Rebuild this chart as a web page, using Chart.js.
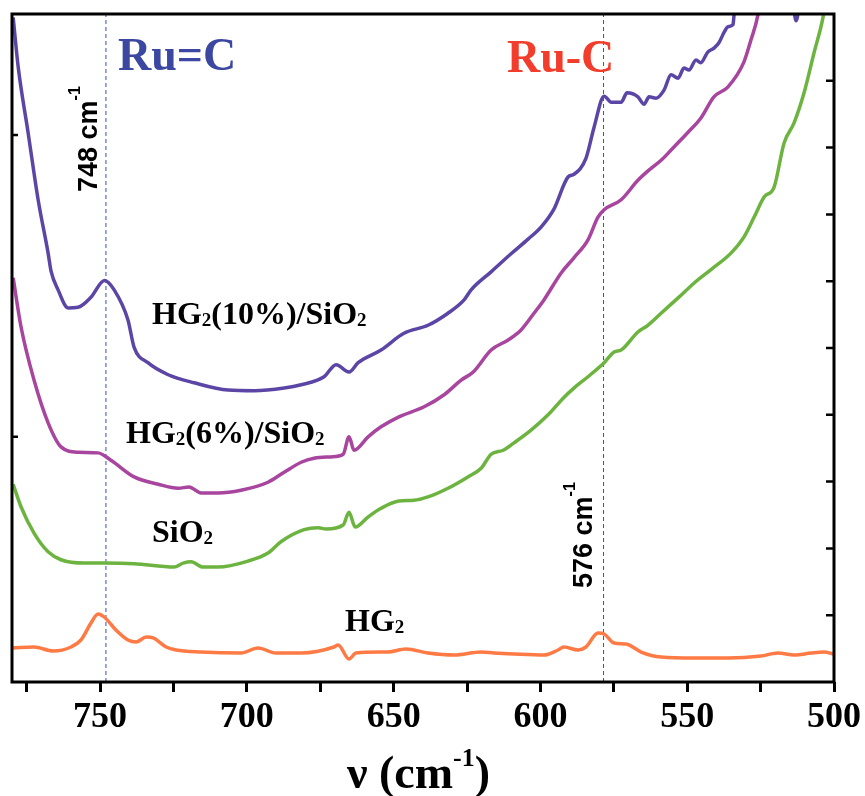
<!DOCTYPE html>
<html>
<head>
<meta charset="utf-8">
<script src="https://cdn.jsdelivr.net/npm/chart.js@4.4.0/dist/chart.umd.min.js"></script>
<style>
  html, body { margin: 0; padding: 0; background: #fff; }
  canvas { display: block; }
</style>
</head>
<body>
<canvas id="grafico" width="865" height="796"></canvas>
<script>
// wavenumber (cm-1) and relative intensity
const nuHG10 = [779.6, 777.9, 774.5, 771.1, 767.7, 766.7, 764.3, 760.9, 757.5, 753.1, 748.5, 745.2, 740.5, 738.4, 733.7, 726.8, 718.0, 706.4, 697.5, 687.3, 681.5, 673.7, 669.6, 665.2, 662.1, 654.3, 646.5, 638.3, 631.5, 626.0, 623.6, 616.8, 610.0, 604.2, 599.8, 595.4, 590.6, 588.6, 584.5, 581.7, 578.3, 575.9, 572.5, 570.5, 566.8, 564.7, 563.0, 560.6, 557.9, 555.5, 553.1, 551.1, 549.4, 547.0, 545.4, 543.0, 540.9, 539.2, 537.5, 536.1, 534.4, 534.1, 533.0, 516.0, 512.9, 510.0];
const valHG10 = [99.5, 92.1, 82.2, 72.2, 64.2, 61.5, 58.7, 56.0, 56.1, 57.6, 60.1, 58.7, 54.2, 50.1, 47.8, 46.0, 44.8, 43.7, 43.6, 44.0, 44.5, 45.7, 47.5, 46.4, 47.8, 49.7, 52.2, 53.4, 55.2, 57.2, 58.7, 61.4, 64.1, 66.3, 68.1, 70.8, 75.6, 76.0, 78.4, 83.1, 87.7, 86.8, 86.8, 88.2, 87.6, 86.5, 87.6, 87.4, 88.6, 90.9, 90.4, 91.9, 91.6, 93.1, 92.7, 94.3, 94.9, 95.7, 97.2, 98.1, 98.4, 99.6, 104, 112, 99.0, 112];

const nuHG6 = [779.6, 776.9, 772.5, 767.7, 763.3, 757.5, 750.7, 746.3, 738.4, 730.2, 723.4, 719.7, 715.6, 709.8, 702.0, 692.8, 687.3, 681.5, 677.1, 671.3, 667.2, 665.2, 663.5, 658.7, 654.3, 648.2, 639.6, 632.8, 627.0, 622.9, 616.8, 611.0, 606.6, 602.2, 598.8, 593.0, 588.6, 583.8, 580.4, 578.3, 572.5, 566.8, 562.3, 558.9, 554.5, 549.7, 545.4, 540.9, 536.1, 530.7, 528.3, 525.9, 524.0];
const valHG6 = [60.5, 53.1, 45.2, 38.8, 35.2, 34.4, 34.3, 33.2, 30.7, 29.6, 29.0, 29.2, 28.3, 28.3, 28.7, 29.9, 31.4, 32.9, 33.5, 33.7, 34.1, 36.7, 34.7, 36.7, 38.2, 39.7, 41.2, 43.0, 45.2, 46.4, 49.7, 51.2, 52.7, 55.2, 57.2, 61.2, 63.5, 66.2, 69.6, 70.7, 72.2, 75.1, 76.9, 78.1, 80.1, 82.3, 84.4, 87.6, 89.1, 92.8, 96.1, 99.9, 106];

const nuSiO2 = [779.6, 776.9, 772.5, 767.7, 763.3, 755.4, 748.6, 738.4, 724.8, 721.7, 719.0, 714.9, 709.8, 699.6, 692.8, 688.4, 680.5, 675.7, 673.0, 667.2, 665.2, 663.1, 658.7, 654.3, 648.2, 643.1, 638.3, 631.5, 624.7, 620.2, 616.8, 612.7, 609.0, 603.2, 597.4, 592.0, 588.6, 583.8, 578.3, 574.9, 572.5, 566.8, 563.4, 558.9, 553.1, 547.7, 542.0, 535.1, 530.7, 527.2, 523.8, 520.4, 517.0, 513.6, 510.2, 506.8, 503.7, 501.5];
const valSiO2 = [29.6, 26.2, 22.3, 19.5, 18.3, 17.8, 17.8, 17.7, 17.2, 17.8, 18.0, 17.2, 17.2, 18.1, 19.3, 21.0, 22.8, 23.1, 22.9, 23.5, 25.4, 23.2, 24.7, 26.0, 27.1, 27.2, 27.7, 29.0, 30.7, 32.0, 34.1, 34.7, 35.8, 37.7, 40.0, 42.6, 44.0, 45.7, 47.8, 49.4, 49.7, 52.4, 53.4, 55.2, 57.5, 59.7, 61.7, 64.2, 66.6, 69.6, 72.6, 74.1, 80.7, 83.7, 88.2, 94.2, 99.6, 106];

const nuHG2 = [779.6, 772.5, 766.0, 759.9, 756.5, 753.1, 750.7, 748.6, 744.6, 740.5, 737.7, 734.3, 731.9, 727.5, 724.1, 715.6, 702.0, 696.2, 690.1, 681.5, 670.3, 668.9, 665.2, 662.8, 651.9, 645.8, 638.3, 629.4, 620.2, 615.8, 609.0, 598.8, 594.0, 592.0, 587.2, 584.5, 580.4, 578.3, 574.9, 570.8, 565.7, 558.9, 547.7, 536.1, 524.9, 519.1, 513.6, 507.8, 503.4, 500.3];
const valHG2 = [5.09, 5.24, 4.64, 5.24, 6.29, 8.83, 10.18, 9.73, 7.78, 6.29, 5.99, 6.74, 6.59, 5.24, 4.79, 4.49, 4.34, 5.09, 4.34, 4.34, 5.24, 5.54, 3.44, 4.34, 4.49, 4.94, 4.34, 4.04, 4.49, 4.34, 4.19, 4.04, 4.79, 5.24, 4.79, 5.24, 7.34, 7.19, 5.84, 5.69, 4.49, 3.74, 3.59, 3.59, 3.89, 4.34, 4.04, 4.34, 4.49, 4.19];

// linhas tracejadas das bandas
const bandLines = [748, 578.5];
const xTicks = [500, 525, 550, 575, 600, 625, 650, 675, 700, 725, 750, 775];
const rightTicks = [10, 20, 30, 40, 50, 60, 70, 80, 90];
const leftTicks = [36.7, 81.9];

const pontos = (xs, ys) => xs.map((x, i) => ({ x, y: ys[i] }));

function serie(nome, xs, ys, cor) {
  return {
    label: nome,
    data: pontos(xs, ys),
    borderColor: cor,
    borderWidth: 3.5,
    pointRadius: 0,
    cubicInterpolationMode: 'monotone',
    fill: false,
    order: 1
  };
}

const tracejadas = bandLines.map(v => ({
  label: v + ' cm-1',
  data: [{ x: v, y: 0 }, { x: v, y: 100 }],
  borderColor: '#3550b8',
  borderWidth: 1,
  borderDash: [4, 3],
  pointRadius: 0,
  order: 2
}));

// texto com subscrito / sobrescrito
function textoRico(ctx, x, y, partes, cor) {
  ctx.fillStyle = cor;
  ctx.textBaseline = 'alphabetic';
  ctx.textAlign = 'left';
  let cx = x;
  partes.forEach(p => {
    ctx.font = p.font;
    ctx.fillText(p.t, cx, y + (p.dy || 0));
    cx += ctx.measureText(p.t).width;
  });
}

const serif = (s) => 'bold ' + s + 'px "Liberation Serif", "Times New Roman", serif';
const sans = (s) => 'bold ' + s + 'px "Liberation Sans", Arial, sans-serif';

function rotulo(ctx, x, y, partes) {
  const out = [];
  partes.forEach(p => {
    if (p === '2') out.push({ t: '2', font: serif(19), dy: 2 });
    else out.push({ t: p, font: serif(32) });
  });
  textoRico(ctx, x, y, out, '#000');
}

const decoracao = {
  id: 'decoracao',
  afterDatasetsDraw(chart) {
    const ctx = chart.ctx;
    const a = chart.chartArea;
    const ys = chart.scales.y;
    ctx.save();

    // moldura
    ctx.strokeStyle = '#000';
    ctx.lineWidth = 3;
    ctx.strokeRect(a.left, a.top, a.right - a.left, a.bottom - a.top);

    // ticks internos
    ctx.lineWidth = 2.5;
    ctx.beginPath();
    rightTicks.forEach(v => {
      const py = ys.getPixelForValue(v);
      ctx.moveTo(a.right, py);
      ctx.lineTo(a.right - 8, py);
    });
    leftTicks.forEach(v => {
      const py = ys.getPixelForValue(v);
      ctx.moveTo(a.left, py);
      ctx.lineTo(a.left + 6, py);
    });
    ctx.stroke();

    // rótulos das curvas
    rotulo(ctx, 152, 324, ['HG', '2', '(10%)/SiO', '2']);
    rotulo(ctx, 126, 443, ['HG', '2', '(6%)/SiO', '2']);
    rotulo(ctx, 152, 542, ['SiO', '2']);
    rotulo(ctx, 345, 631, ['HG', '2']);

    textoRico(ctx, 118, 70, [{ t: 'Ru=C', font: serif(46) }], '#3b47a0');
    textoRico(ctx, 507, 72, [{ t: 'Ru-C', font: serif(46) }], '#f23c2c');

    // anotações verticais
    [[97, 192, '748 cm'], [592, 588, '576 cm']].forEach(([x, y, t]) => {
      ctx.save();
      ctx.translate(x, y);
      ctx.rotate(-Math.PI / 2);
      textoRico(ctx, 0, 0, [{ t, font: sans(27) }, { t: '-1', font: sans(16), dy: -17 }], '#000');
      ctx.restore();
    });

    // título do eixo x
    textoRico(ctx, 347, 788, [
      { t: 'ν (cm', font: serif(46) },
      { t: '-1', font: serif(26), dy: -22 },
      { t: ')', font: serif(46) }
    ], '#000');

    ctx.restore();
  }
};

new Chart(document.querySelector('#grafico'), {
  type: 'line',
  data: {
    datasets: [
      serie('HG2(10%)/SiO2', nuHG10, valHG10, '#5b46a6'),
      serie('HG2(6%)/SiO2', nuHG6, valHG6, '#a8459e'),
      serie('SiO2', nuSiO2, valSiO2, '#6cb43f'),
      serie('HG2', nuHG2, valHG2, '#ff7a45'),
      ...tracejadas
    ]
  },
  options: {
    responsive: false,
    animation: false,
    devicePixelRatio: 1,
    layout: { padding: { left: 12, right: 31, top: 14, bottom: 0 } },
    plugins: { legend: { display: false }, tooltip: { enabled: false } },
    scales: {
      x: {
        type: 'linear',
        reverse: true,
        min: 500,
        max: 780,
        afterBuildTicks: s => { s.ticks = xTicks.map(v => ({ value: v })); },
        afterFit: s => { s.height = 114; },
        border: { display: false },
        grid: {
          drawOnChartArea: false,
          drawTicks: true,
          tickLength: 10,
          tickWidth: 3,
          tickColor: '#000'
        },
        ticks: {
          autoSkip: false,
          maxRotation: 0,
          padding: 4,
          color: '#000',
          font: { family: '"Liberation Serif", "Times New Roman", serif', size: 36, weight: 'bold' },
          callback: v => (v % 50 === 0 ? v : '')
        }
      },
      y: {
        display: false,
        min: 0,
        max: 100
      }
    }
  },
  plugins: [decoracao]
});
</script>
</body>
</html>
